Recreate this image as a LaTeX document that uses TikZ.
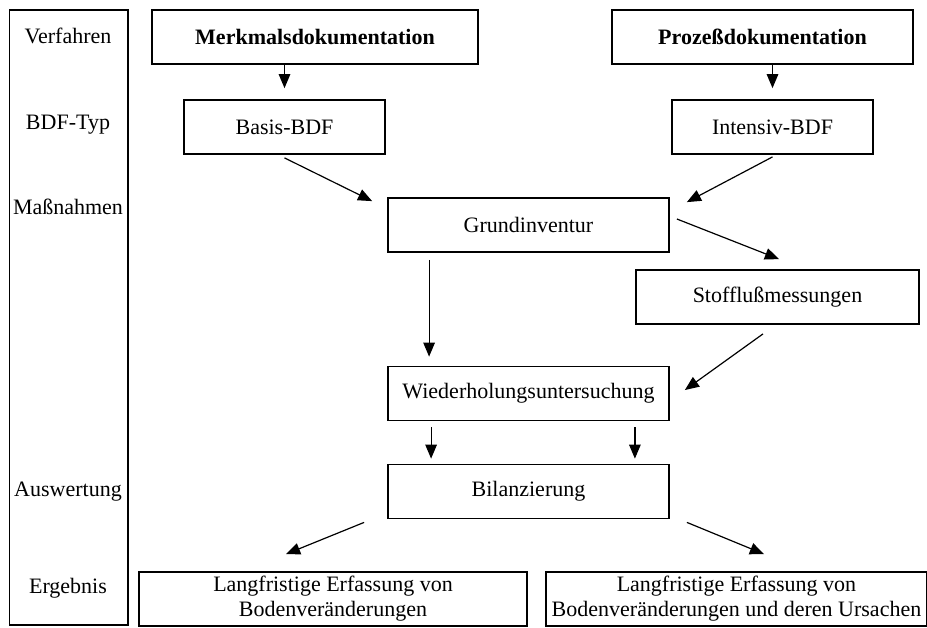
\documentclass[tikz,border=0pt]{standalone}
\usepackage{fontspec}
\setmainfont{Liberation Serif}
\usepackage{tikz}
\usetikzlibrary{arrows,calc,positioning}

\begin{document}
\begin{tikzpicture}[x=0.5pt,y=-0.5pt,
	  every node/.style={align=center,font=\fontsize{11}{12.5}\selectfont},
	  box/.style={draw,line width=0.9pt,inner sep=1pt,minimum height=27pt},
	  wide/.style={box,minimum width=140.5pt},
	  lbl/.style={inner sep=0pt},
	  to/.style={->,>=triangle 45,line width=0.6pt}]

	  \useasboundingbox (0,0) rectangle (927,627);

	  % left column
	  \node[draw,line width=0.9pt,minimum width=59.25pt,minimum height=307.5pt] (column) at (68.75,317.5) {};
	  \node[lbl] (verfahren) at (68,36) {Verfahren};
	  \node[lbl] (bdftyp) at (68,125) {BDF-Typ};
	  \node[lbl] (massnahmen) at (68,207) {Maßnahmen};
	  \node[lbl] (auswertung) at (68,492) {Auswertung};
	  \node[lbl] (ergebnis) at (68,588) {Ergebnis};

	  % Position the boxes
	  \node[box,minimum width=163pt] (merkmal) at (315,37) {\bfseries Merkmalsdokumentation};
	  \node[box,minimum width=150.5pt] (prozess) at (762.5,37) {\bfseries Prozeßdokumentation};
	  \node[box,minimum width=100.5pt] (basis) at (284.5,127) {Basis-BDF};
	  \node[box,minimum width=100.5pt] (intensiv) at (772.5,127) {Intensiv-BDF};
	  \node[wide] (grund) at (528.5,225) {Grundinventur};
	  \node[box,minimum width=141.5pt] (stoff) at (777.5,297) {Stofflußmessungen};
	  \node[wide] (wieder) at (528.5,393.5) {Wiederholungsuntersuchung};
	  \node[wide] (bilanz) at (528.5,491.5) {Bilanzierung};
	  \node[box,minimum width=194pt] (langfr) at (333,599) {Langfristige Erfassung von\\Bodenveränderungen};
	  \node[box,minimum width=190.5pt] (ursachen) at (736.5,599) {Langfristige Erfassung von\\Bodenveränderungen und deren Ursachen};

	  \draw[to] (basis.north |- merkmal.south) -- ([yshift=5.5pt]basis.north);
	  \draw[to] (intensiv.north |- prozess.south) -- ([yshift=5.5pt]intensiv.north);
	  \draw[to] ([yshift=-1.5pt]basis.south) -- ([xshift=-7.5pt,yshift=-2pt]grund.north west);
	  \draw[to] ([yshift=-1pt]intensiv.south) -- ([xshift=8.5pt,yshift=-2.5pt]grund.north east);
	  \draw[to] ([xshift=3.5pt,yshift=3pt]grund.east) -- ([xshift=0.75pt,yshift=5pt]stoff.north);
	  \draw[to] ([xshift=21pt,yshift=-3.5pt]grund.south west) -- ([xshift=21pt,yshift=4.5pt]wieder.north west);
	  \draw[to] ([xshift=-7.25pt,yshift=-4.5pt]stoff.south) -- ([xshift=7.5pt,yshift=1.75pt]wieder.east);
	  \draw[to] ([xshift=22pt,yshift=-3pt]wieder.south west) -- ([xshift=22pt,yshift=2.5pt]bilanz.north west);
	  \draw[to] ([xshift=-17.5pt,yshift=-3pt]wieder.south east) -- ([xshift=-17.5pt,yshift=2.5pt]bilanz.north east);
	  \draw[to] ([xshift=-11.5pt,yshift=-1.5pt]bilanz.south west) -- ([xshift=-23.5pt,yshift=8.5pt]langfr.north);
	  \draw[to] ([xshift=8.5pt,yshift=-1.5pt]bilanz.south east) -- ([xshift=13.75pt,yshift=8.5pt]ursachen.north);
\end{tikzpicture}
\end{document}
